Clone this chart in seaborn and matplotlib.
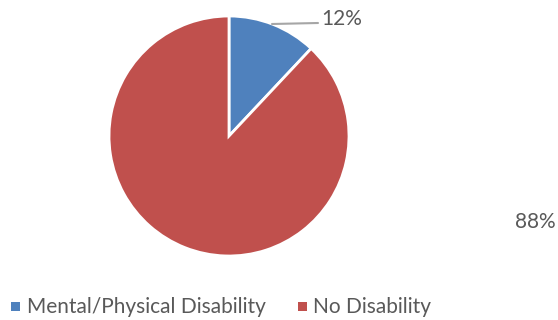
import matplotlib
matplotlib.use("Agg")
import matplotlib.pyplot as plt
import seaborn as sns
from matplotlib.lines import Line2D
from matplotlib.patches import Rectangle

sns.set_theme(style="white")
plt.rcParams['font.family'] = ['Lato', 'DejaVu Sans']

categories = ["Mental/Physical Disability", "No Disability"]
values = [12, 88]
labels = ["12%", "88%"]
colors = ["#4F81BD", "#C0504D"]
text_color = "#595959"

W, H = 558, 320
fig = plt.figure(figsize=(W / 100, H / 100), dpi=100)

cx, cy, r = 229, 136, 120
ax = fig.add_axes([(cx - r) / W, (H - cy - r) / H, 2 * r / W, 2 * r / H])
wedges, _ = ax.pie(values, colors=colors, startangle=90, counterclock=False,
                   radius=1, wedgeprops=dict(edgecolor="white", linewidth=2))
ax.set_xlim(-1, 1)
ax.set_ylim(-1, 1)
ax.set_aspect("equal")
ax.axis("off")

def px(x, y):
    return x / W, 1 - y / H

fs = 15
# leader line for 12%
fig.add_artist(Line2D([272 / W, 318 / W], [1 - 24 / H, 1 - 23 / H],
                      transform=fig.transFigure, color="#A6A6A6", lw=1.5))
fig.text(*px(321, 19), labels[0], ha="left", va="center", fontsize=fs, color=text_color)
fig.text(*px(556, 222), labels[1], ha="right", va="center", fontsize=fs, color=text_color)

# legend
leg_y = 307
items = [(11, 27), (298, 313)]
for (mx, tx), cat, col in zip(items, categories, colors):
    fig.add_artist(Rectangle((mx / W, 1 - (leg_y + 4) / H), 9 / W, 9 / H,
                             transform=fig.transFigure, color=col, lw=0))
    fig.text(*px(tx, leg_y), cat, ha="left", va="center", fontsize=fs, color=text_color)

fig.savefig("out.png", dpi=100)
